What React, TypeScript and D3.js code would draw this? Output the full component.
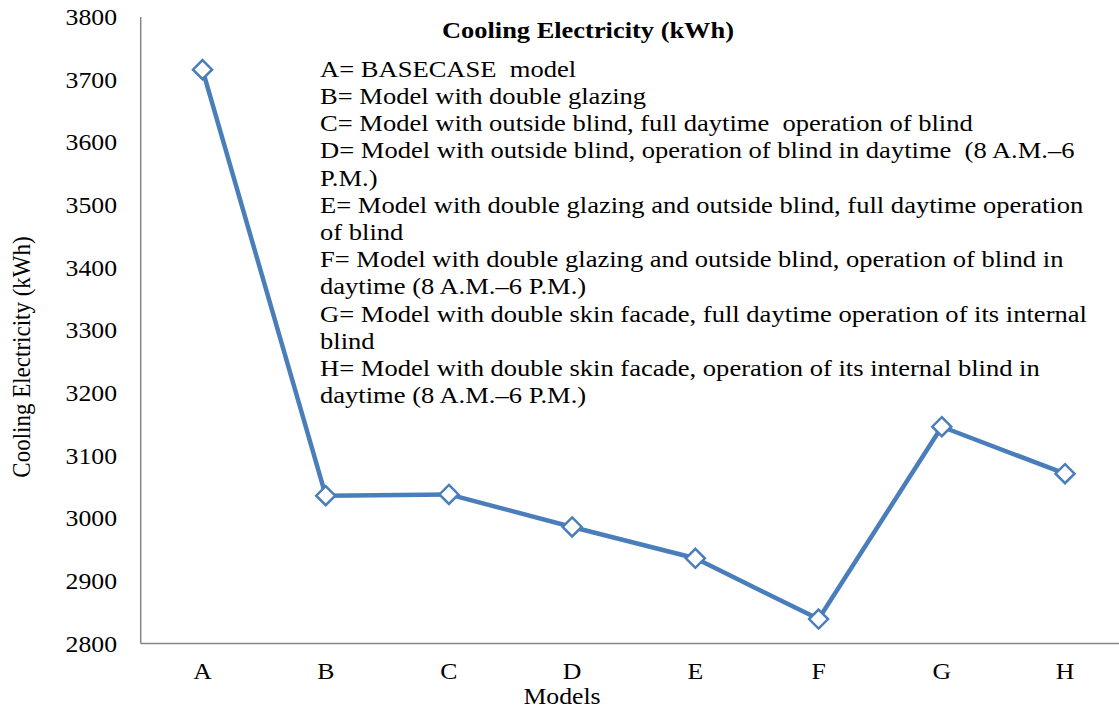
import React from "react";
import * as d3 from "d3";

const categories = ["A", "B", "C", "D", "E", "F", "G", "H"];
const values = [3716, 3036, 3038, 2986, 2936, 2839, 3146, 3071];
const yTicks = [2800, 2900, 3000, 3100, 3200, 3300, 3400, 3500, 3600, 3700, 3800];
const title = "Cooling Electricity (kWh)";
const xTitle = "Models";
const yTitle = "Cooling Electricity (kWh)";
const legendLines = [
  "A= BASECASE  model",
  "B= Model with double glazing",
  "C= Model with outside blind, full daytime  operation of blind",
  "D= Model with outside blind, operation of blind in daytime  (8 A.M.\u20136",
  "P.M.)",
  "E= Model with double glazing and outside blind, full daytime operation",
  "of blind",
  "F= Model with double glazing and outside blind, operation of blind in",
  "daytime (8 A.M.\u20136 P.M.)",
  "G= Model with double skin facade, full daytime operation of its internal",
  "blind",
  "H= Model with double skin facade, operation of its internal blind in",
  "daytime (8 A.M.\u20136 P.M.)",
];

const W = 1119;
const H = 710;
const SX = 1.12;
const SXL = 1.155;
const FONT = "Liberation Serif, Times New Roman, serif";
const BLUE = "#4A7EBB";

export default function App() {
  const x = d3.scalePoint<string>().domain(categories).range([202.5, 1065]);
  const y = d3.scaleLinear().domain([2800, 3800]).range([643.5, 17]);
  const line = d3
    .line<number>()
    .x((_, i) => x(categories[i]) as number)
    .y((d) => y(d));
  const diamond = (cx: number, cy: number, r: number) =>
    `M${cx},${cy - r}L${cx + r},${cy}L${cx},${cy + r}L${cx - r},${cy}Z`;
  const axisLeft = 140.7;

  return (
    <svg
      width={W}
      height={H}
      style={{ position: "absolute", left: 0, top: 0, background: "#fff" }}
      fontFamily={FONT}
    >
      <rect x={0} y={0} width={W} height={H} fill="#fff" />
      <line x1={axisLeft} x2={axisLeft} y1={y(3800)} y2={y(2800)} stroke="#868686" strokeWidth={1.5} />
      <line x1={axisLeft} x2={W} y1={y(2800)} y2={y(2800)} stroke="#868686" strokeWidth={1.5} />
      {yTicks.map((t) => (
        <text
          key={t}
          transform={`translate(117,${y(t) + 8}) scale(${SX},1)`}
          textAnchor="end"
          fontSize={23}
          fill="#000"
        >
          {t}
        </text>
      ))}
      {categories.map((c) => (
        <text
          key={c}
          transform={`translate(${x(c)},679) scale(${SX},1)`}
          textAnchor="middle"
          fontSize={23}
          fill="#000"
        >
          {c}
        </text>
      ))}
      <text transform={`translate(562,704) scale(${SX},1)`} textAnchor="middle" fontSize={23}>
        {xTitle}
      </text>
      <text transform={`translate(30,357) rotate(-90) scale(1,${SX})`} textAnchor="middle" fontSize={23}>
        {yTitle}
      </text>
      <text transform={`translate(588,38) scale(${SX},1)`} textAnchor="middle" fontSize={23.6} fontWeight="bold">
        {title}
      </text>
      {legendLines.map((l, i) => (
        <text
          key={i}
          transform={`translate(320,${76.7 + i * 27.2}) scale(${SXL},1)`}
          fontSize={23}
          style={{ whiteSpace: "pre" }}
        >
          {l}
        </text>
      ))}
      <path d={line(values) as string} fill="none" stroke={BLUE} strokeWidth={4.5} strokeLinejoin="round" />
      {values.map((v, i) => (
        <path
          key={i}
          d={diamond(x(categories[i]) as number, y(v), 9.5)}
          fill="#fff"
          stroke={BLUE}
          strokeWidth={2.5}
        />
      ))}
    </svg>
  );
}
